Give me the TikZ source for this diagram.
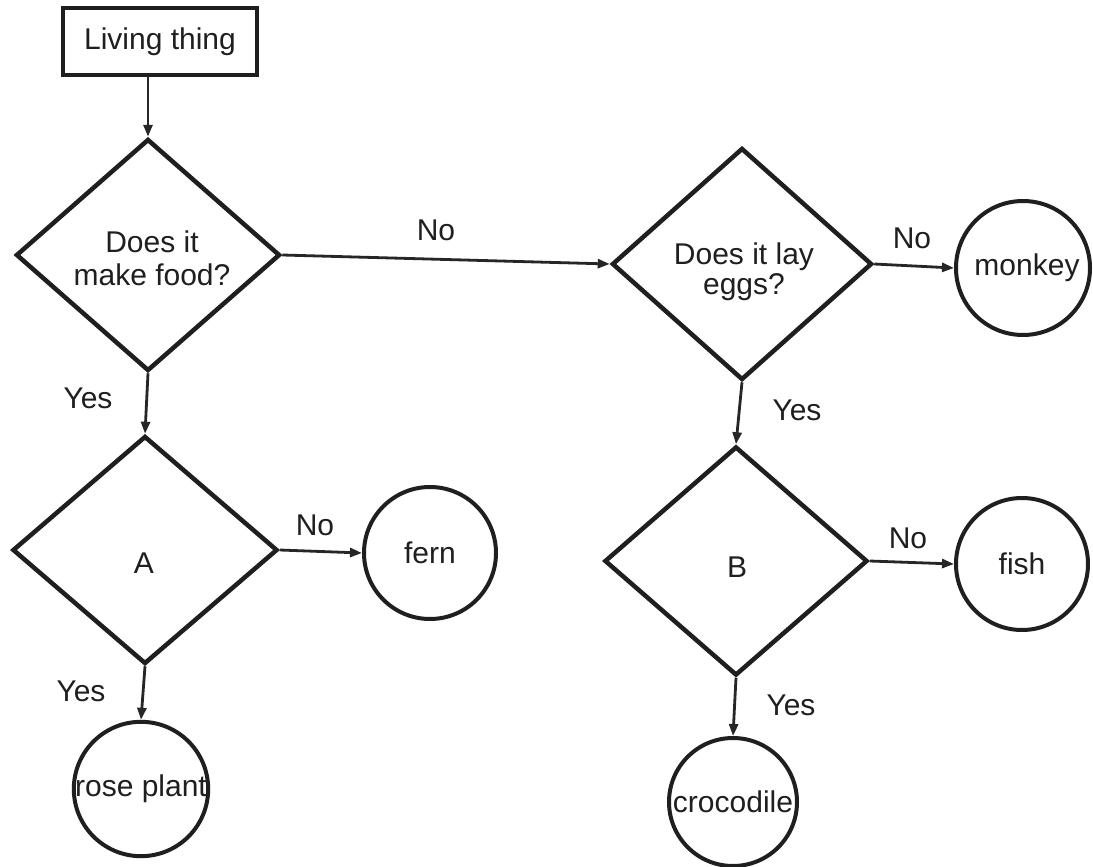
\documentclass[tikz,border=0pt]{standalone}
\usepackage{fontspec}
\setmainfont{Liberation Sans}
\usetikzlibrary{shapes.geometric,arrows.meta}
\begin{document}
\begin{tikzpicture}[x=1pt,y=-1pt,
  txt/.style={font=\fontsize{30}{33}\selectfont, text=black!88},
  startbox/.style={rectangle, draw=black!88, line width=3.5pt, inner sep=0pt, txt},
  dec/.style={diamond, draw=black!88, line width=4.5pt, inner sep=0pt, align=center, txt},
  term/.style={circle, draw=black!88, line width=4pt, inner sep=0pt, txt},
  arr/.style={draw=black!85, line width=2.8pt, -{Triangle[length=12pt,width=9pt]}},
  lbl/.style={inner sep=0pt, align=center, txt}
]
\useasboundingbox (0,0) rectangle (1093,867);
\fill[white] (0,0) rectangle (1093,867);

\node[startbox, minimum width=194pt, minimum height=67pt] (start) at (160,41.5) {Living thing};
\node[dec, minimum width=264pt, minimum height=232pt] (d1) at (148,255) {};
\node[lbl] (d1t) at (152,258) {Does it\\make food?};
\node[dec, minimum width=260pt, minimum height=232pt] (d2) at (742,264) {};
\node[lbl, font=\fontsize{30}{30}\selectfont] (d2t) at (744,272) {Does it lay\\eggs?};
\node[term, minimum size=134pt] (monkey) at (1023,268) {\hspace*{8pt}monkey};
\node[dec, minimum width=265pt, minimum height=228pt] (dA) at (145,550) {};
\node[lbl] (dAt) at (144,563) {A};
\node[term, minimum size=132pt] (fern) at (430,553) {fern};
\node[dec, minimum width=263pt, minimum height=229pt] (dB) at (736,561) {};
\node[lbl] (dBt) at (737,567) {B};
\node[term, minimum size=132pt] (fish) at (1022,564) {fish};
\node[term, minimum size=132pt] (rose) at (141,789) {rose plant};
\node[term, minimum size=128pt] (croc) at (733,802) {crocodile};

\draw[arr] (start.south -| d1.north) -- (d1.north);
\draw[arr] (d1.east) -- (d2.west);
\draw[arr] (d2.east) -- (monkey.west);
\draw[arr] (d1.south) -- (dA.north);
\draw[arr] (dA.east) -- (fern.west);
\draw[arr] (dA.south) -- (rose.north);
\draw[arr] (d2.south) -- (dB.north);
\draw[arr] (dB.east) -- (fish.west);
\draw[arr] (dB.south) -- (croc.north);

\node[lbl] (l1) at (436,230) {No};
\node[lbl] (l2) at (912,238) {No};
\node[lbl] (l3) at (88,398) {Yes};
\node[lbl] (l4) at (315,525) {No};
\node[lbl] (l5) at (81,691) {Yes};
\node[lbl] (l6) at (797,410) {Yes};
\node[lbl] (l7) at (908,538) {No};
\node[lbl] (l8) at (791,705) {Yes};
\end{tikzpicture}
\end{document}
